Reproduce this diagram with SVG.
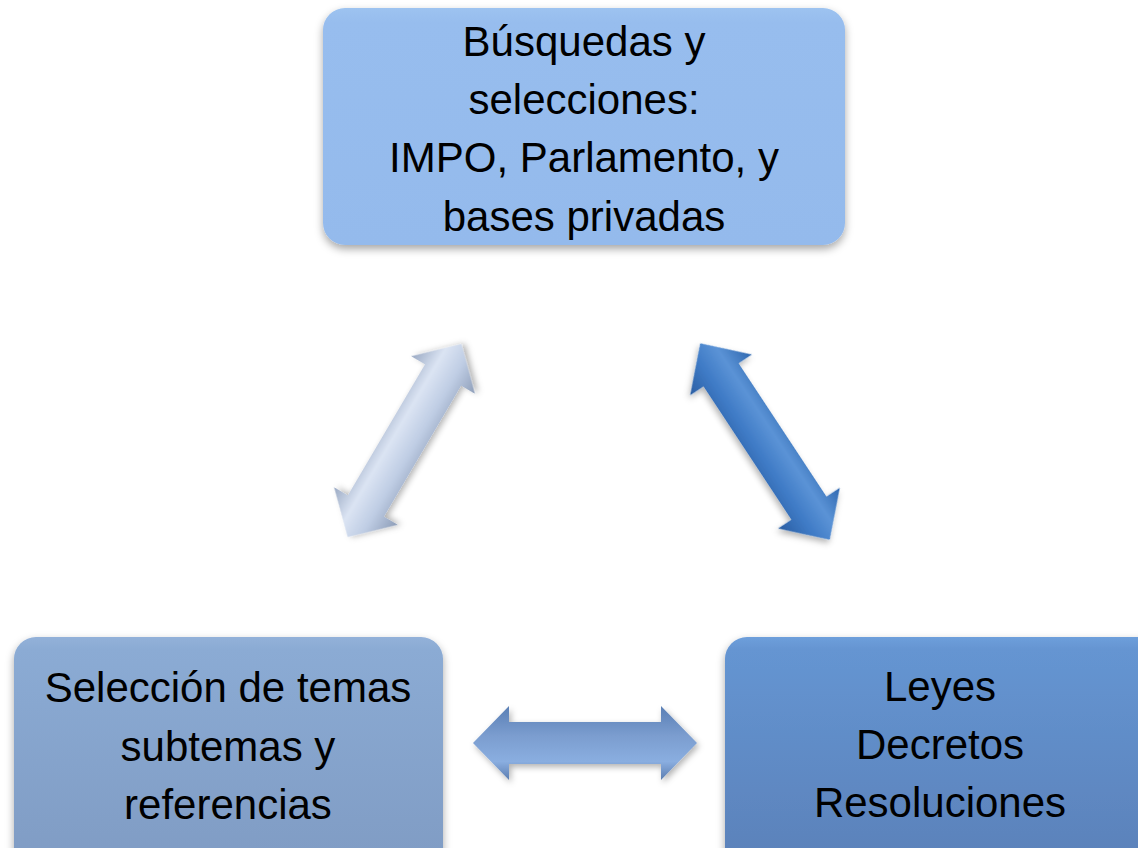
<svg xmlns="http://www.w3.org/2000/svg" width="1138" height="848" viewBox="0 0 1138 848">
<defs>
<style>
.t{font-family:"Liberation Sans",Arial,sans-serif;font-size:42px;fill:#000;text-anchor:middle}
</style>
<filter id="sh" x="-10%" y="-10%" width="120%" height="130%">
<feDropShadow dx="0" dy="4" stdDeviation="4" flood-color="#000" flood-opacity="0.35"/>
</filter>
<filter id="ash" x="-20%" y="-40%" width="140%" height="180%">
<feDropShadow dx="2" dy="3" stdDeviation="3" flood-color="#000" flood-opacity="0.3"/>
</filter>
<linearGradient id="gTop" x1="0" y1="0" x2="0" y2="1">
<stop offset="0" stop-color="#9dc3f0"/>
<stop offset="0.06" stop-color="#97bdee"/>
<stop offset="1" stop-color="#94baec"/>
</linearGradient>
<linearGradient id="gLeft" x1="0" y1="0" x2="0" y2="1">
<stop offset="0" stop-color="#93b1d9"/>
<stop offset="0.05" stop-color="#8babd4"/>
<stop offset="1" stop-color="#7f9bc3"/>
</linearGradient>
<linearGradient id="gRight" x1="0" y1="0" x2="0" y2="1">
<stop offset="0" stop-color="#6e9fdb"/>
<stop offset="0.05" stop-color="#6595d2"/>
<stop offset="1" stop-color="#5a80b8"/>
</linearGradient>
<linearGradient id="aLight" x1="0" y1="-1" x2="0" y2="1" gradientUnits="objectBoundingBox">
<stop offset="0" stop-color="#a9b7cf"/>
<stop offset="0.35" stop-color="#d8e2f2"/>
<stop offset="0.6" stop-color="#bccbe3"/>
<stop offset="1" stop-color="#8f9fba"/>
</linearGradient>
<linearGradient id="aBlue" x1="0" y1="0" x2="0" y2="1">
<stop offset="0" stop-color="#2f68b0"/>
<stop offset="0.35" stop-color="#5b93d6"/>
<stop offset="0.65" stop-color="#3f7bc6"/>
<stop offset="1" stop-color="#2a5ea3"/>
</linearGradient>
<linearGradient id="aMid" x1="0" y1="0" x2="0" y2="1">
<stop offset="0" stop-color="#5a7fb5"/>
<stop offset="0.4" stop-color="#7b9dcf"/>
<stop offset="0.75" stop-color="#8aaee0"/>
<stop offset="1" stop-color="#5b7db0"/>
</linearGradient>
<linearGradient id="aLight2" x1="0" y1="0" x2="0" y2="1">
<stop offset="0" stop-color="#9aa9c3"/>
<stop offset="0.35" stop-color="#dbe4f3"/>
<stop offset="0.65" stop-color="#bfcde4"/>
<stop offset="1" stop-color="#8d9db8"/>
</linearGradient>
<path id="arr" d="M-112,0 L-76,-37 L-76,-21 L76,-21 L76,-37 L112,0 L76,37 L76,21 L-76,21 L-76,37 Z"/>
</defs>
<rect width="1138" height="848" fill="#ffffff"/>

<g id="connectors">
<g id="arrow-left" transform="translate(404.5,440.5) rotate(-59.5)" filter="url(#ash)">
<use href="#arr" fill="url(#aLight2)"/>
</g>
<g id="arrow-right" transform="translate(765,441.5) rotate(56.6) scale(1.05,1)" filter="url(#ash)">
<use href="#arr" fill="url(#aBlue)"/>
</g>
<g id="arrow-bottom" transform="translate(585,743)" filter="url(#ash)">
<use href="#arr" fill="url(#aMid)"/>
</g>
</g>

<g id="node-top">
<rect x="323" y="8" width="522" height="237" rx="22" fill="url(#gTop)" filter="url(#sh)"/>
<text class="t" x="584" y="56">Búsquedas y</text>
<text class="t" x="584" y="114">selecciones:</text>
<text class="t" x="584" y="172">IMPO, Parlamento, y</text>
<text class="t" x="584" y="231">bases privadas</text>
</g>

<g id="node-left">
<rect x="14" y="637" width="429" height="240" rx="22" fill="url(#gLeft)" filter="url(#sh)"/>
<text class="t" x="228" y="702">Selección de temas</text>
<text class="t" x="228" y="761">subtemas y</text>
<text class="t" x="228" y="819">referencias</text>
</g>

<g id="node-right">
<rect x="725" y="637" width="440" height="240" rx="22" fill="url(#gRight)" filter="url(#sh)"/>
<text class="t" x="940" y="701">Leyes</text>
<text class="t" x="940" y="759">Decretos</text>
<text class="t" x="940" y="817">Resoluciones</text>
</g>
</svg>
